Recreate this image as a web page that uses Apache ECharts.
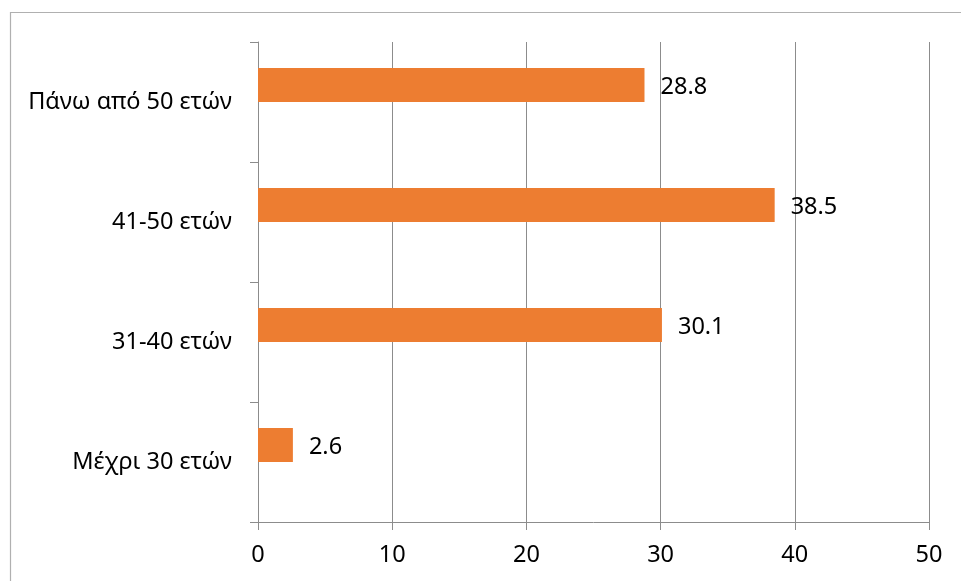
<!DOCTYPE html>
<html>
<head>
<meta charset="utf-8">
<script src="https://cdn.jsdelivr.net/npm/echarts@6/dist/echarts.min.js"></script>
<style>html,body{margin:0;padding:0;background:#fff}#c{width:961px;height:581px}</style>
</head>
<body>
<div id="c"></div>
<script>
const categories = ['Μέχρι 30 ετών', '31-40 ετών', '41-50 ετών', 'Πάνω από 50 ετών'];
const values = [2.6, 30.1, 38.5, 28.8];
const placeholder = [null, null, null, null];
const xTicks = [0, 10, 20, 30, 40, 50];

const chart = echarts.init(document.getElementById('c'), null, {renderer: 'canvas'});
const font = '"Noto Sans", "Open Sans", sans-serif';
const axisGrey = '#8c8c8c';
chart.setOption({
  animation: false,
  backgroundColor: '#ffffff',
  graphic: [{
    type: 'rect', silent: true,
    shape: {x: 10.5, y: 12.5, width: 1000, height: 1000},
    style: {fill: 'none', stroke: '#b0b0b0', lineWidth: 1.2}
  }],
  grid: {left: 258, right: 32, top: 42, bottom: 59, containLabel: false},
  xAxis: {
    type: 'value', min: xTicks[0], max: xTicks[xTicks.length - 1], interval: 10,
    axisLine: {show: true, lineStyle: {color: axisGrey, width: 1}},
    axisTick: {show: true, length: 8, lineStyle: {color: axisGrey}},
    splitLine: {show: true, lineStyle: {color: axisGrey, width: 1}},
    axisLabel: {color: '#000', fontFamily: font, fontSize: 23.5, margin: 21}
  },
  yAxis: {
    type: 'category', data: categories,
    axisLine: {show: true, lineStyle: {color: axisGrey, width: 1}},
    axisTick: {show: true, length: 8, lineStyle: {color: axisGrey}},
    axisLabel: {color: '#000', fontFamily: font, fontSize: 23.5, margin: 26}
  },
  series: [{
    type: 'bar', data: values, barWidth: 34, barGap: '0%', barCategoryGap: '43.3%',
    itemStyle: {color: '#ED7D31'},
    label: {show: true, position: 'right', distance: 16, color: '#000', fontFamily: font, fontSize: 23.5,
      offset: [0, 2], formatter: p => p.value.toFixed(1)}
  }, {
    type: 'bar', data: placeholder, barWidth: 34, barGap: '0%', barCategoryGap: '43.3%',
    itemStyle: {color: '#A5A5A5'}
  }]
});
</script>
</body>
</html>
